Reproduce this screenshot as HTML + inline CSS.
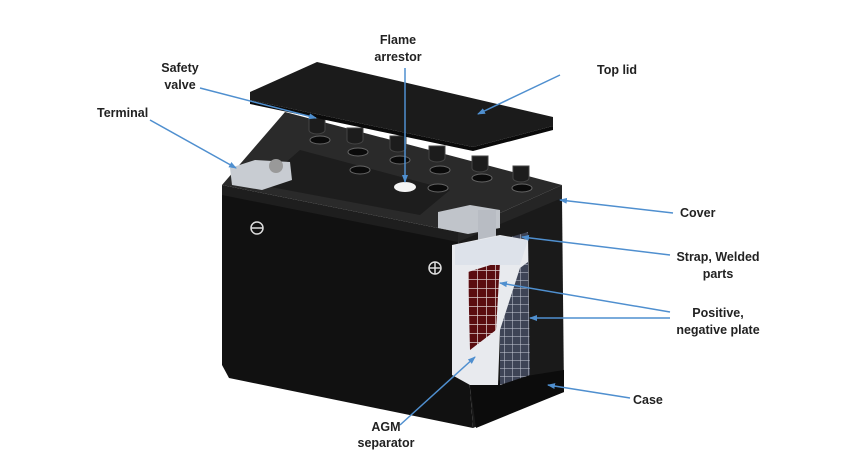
<!DOCTYPE html>
<html><head><style>
html,body{margin:0;padding:0;background:#fff;width:850px;height:466px;overflow:hidden}
svg{display:block}
text{font-family:"Liberation Sans",sans-serif;font-weight:bold;font-size:12.5px;fill:#222}
</style></head><body>
<svg width="850" height="466" viewBox="0 0 850 466">
<defs>
<marker id="a" markerWidth="8" markerHeight="8" refX="7" refY="4" orient="auto" markerUnits="userSpaceOnUse">
<path d="M0,1 L8,4 L0,7 z" fill="#4f8fcf"/></marker>
<pattern id="g" width="9" height="9" patternUnits="userSpaceOnUse">
<rect width="9" height="9" fill="#5a0d10"/><path d="M0,0H9M0,0V9" stroke="#d9c9c9" stroke-width="1.5"/></pattern>
<pattern id="g2" width="8" height="8" patternUnits="userSpaceOnUse">
<rect width="8" height="8" fill="#3e4456"/><path d="M0,0H8M0,0V8" stroke="#c8ccd8" stroke-width="1"/></pattern>
</defs>
<!-- case front -->
<polygon points="222,190 458,232 473,428 229,378 222,365" fill="#111"/>
<!-- side -->
<polygon points="458,232 562,198 564,392 473,428" fill="#1a1a1a"/>
<!-- bottom band -->
<polygon points="470,385 564,370 564,392 476,428" fill="#0c0c0c"/>
<!-- cover top -->
<polygon points="222,185 285,112 562,185 458,232" fill="#2a2a2a"/>
<polygon points="222,185 458,232 458,242 222,195" fill="#1e1e1e"/>
<polygon points="458,232 562,185 562,198 458,242" fill="#252525"/>
<polygon points="260,185 300,150 450,190 420,215" fill="#1d1d1d"/>
<!-- holes and caps -->
<g fill="#0a0a0a" stroke="#666" stroke-width="1">
<ellipse cx="320" cy="140" rx="10" ry="4"/><ellipse cx="358" cy="152" rx="10" ry="4"/>
<ellipse cx="400" cy="160" rx="10" ry="4"/><ellipse cx="440" cy="170" rx="10" ry="4"/>
<ellipse cx="482" cy="178" rx="10" ry="4"/><ellipse cx="522" cy="188" rx="10" ry="4"/>
<ellipse cx="360" cy="170" rx="10" ry="4"/><ellipse cx="438" cy="188" rx="10" ry="4"/>
</g>
<ellipse cx="405" cy="187" rx="11" ry="5" fill="#f4f4f4"/>
<g fill="#1c1c1c" stroke="#444">
<path d="M309,118 h16 v12 a8,4 0 0 1 -16,0z"/><path d="M347,128 h16 v12 a8,4 0 0 1 -16,0z"/>
<path d="M390,136 h16 v12 a8,4 0 0 1 -16,0z"/><path d="M429,146 h16 v12 a8,4 0 0 1 -16,0z"/>
<path d="M472,156 h16 v12 a8,4 0 0 1 -16,0z"/><path d="M513,166 h16 v12 a8,4 0 0 1 -16,0z"/>
</g>
<!-- lid -->
<polygon points="250,92 317,62 553,117 553,126 473,147 250,100" fill="#1b1b1b"/>
<polygon points="250,100 473,147 553,126 553,130 473,151 250,104" fill="#0a0a0a"/>
<!-- terminals -->
<polygon points="230,168 255,160 290,162 292,180 262,190 232,185" fill="#c8ccd2"/>
<circle cx="276" cy="166" r="7" fill="#999"/>
<polygon points="438,212 470,205 500,210 500,228 468,234 438,228" fill="#c0c4ca"/>
<rect x="478" y="210" width="18" height="34" fill="#b8bcc3"/>
<!-- cutaway -->
<polygon points="500,240 528,232 530,375 500,385" fill="url(#g2)"/>
<polygon points="452,245 500,235 528,240 528,262 520,268 500,330 498,385 470,385 452,375" fill="#e8eaee"/>
<polygon points="468,272 500,262 496,330 470,350" fill="url(#g)"/>
<polygon points="455,245 500,236 528,240 520,265 455,265" fill="#dde2ea"/>
<!-- symbols -->
<g stroke="#ddd" stroke-width="1.5" fill="none">
<circle cx="257" cy="228" r="6"/><path d="M251,228h12"/>
<circle cx="435" cy="268" r="6"/><path d="M429,268h12M435,262v12"/></g>
<!-- arrows -->
<g stroke="#4f8fcf" stroke-width="1.5" fill="none" marker-end="url(#a)">
<path d="M405,68 L405,182"/><path d="M200,88 L316,118"/><path d="M150,120 L236,168"/>
<path d="M560,75 L478,114"/><path d="M673,213 L560,200"/><path d="M670,255 L522,237"/>
<path d="M670,312 L500,283"/><path d="M670,318 L530,318"/><path d="M630,398 L548,385"/>
<path d="M400,425 L475,357"/>
</g>
<!-- labels -->
<g text-anchor="middle">
<text x="398" y="44">Flame</text><text x="398" y="61">arrestor</text>
<text x="180" y="72">Safety</text><text x="180" y="89">valve</text>
<text x="718" y="261">Strap, Welded</text><text x="718" y="278">parts</text>
<text x="718" y="317">Positive,</text><text x="718" y="334">negative plate</text>
<text x="386" y="431">AGM</text><text x="386" y="447">separator</text>
</g>
<text x="97" y="117">Terminal</text>
<text x="597" y="74">Top lid</text>
<text x="680" y="217">Cover</text>
<text x="633" y="404">Case</text>
</svg>
</body></html>
